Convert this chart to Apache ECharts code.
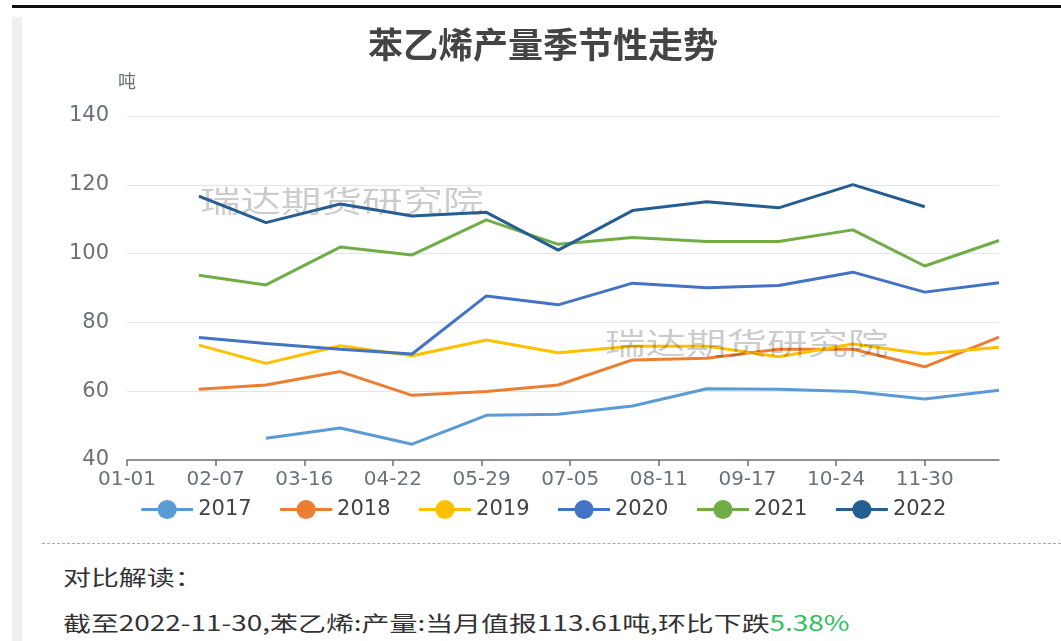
<!DOCTYPE html>
<html>
<head>
<meta charset="utf-8">
<title>苯乙烯产量季节性走势</title>
<script src="https://cdn.jsdelivr.net/npm/echarts@6/dist/echarts.min.js"></script>
<style>
    body { margin: 0; background: #fff; width: 1061px; height: 641px; overflow: hidden; position: relative; font-family: "Noto Sans CJK SC", sans-serif; }
    .topline { position: absolute; left: 12px; right: 0; top: 5px; height: 3px; background: #111; }
    .leftbar { position: absolute; left: 12px; top: 17px; width: 10px; bottom: 0; background: #f0f0f0; }
    #chart { position: absolute; left: 22px; top: 0; width: 1042px; height: 540px; }
    .dash { position: absolute; left: 42px; right: 0; top: 543px; border-top: 1px dashed #aaa; }
    .txt { position: absolute; left: 63px; font-size: 21px; color: #333; white-space: nowrap; transform: scaleX(1.33); transform-origin: left center; }
    .green { color: #2fc25b; }
</style>
</head>
<body>
<div class="topline"></div>
<div class="leftbar"></div>
<div id="chart"></div>
<div class="dash"></div>
<div class="txt" style="top:561px">对比解读：</div>
<div class="txt" style="top:607px">截至2022-11-30,苯乙烯:产量:当月值报113.61吨,环比下跌<span class="green">5.38%</span></div>
<script>
//月末日期
var months = ['01-31','02-28','03-31','04-30','05-31','06-30','07-31','08-31','09-30','10-31','11-30','12-31']
var years = ['2017','2018','2019','2020','2021','2022']
var y2017 = [null, 46.3, 49.3, 44.6, 53.0, 53.3, 55.7, 60.7, 60.6, 59.9, 57.7, 60.3]
var y2018 = [60.6, 61.8, 65.7, 58.8, 59.9, 61.8, 69.1, 69.6, 72.2, 72.2, 67.1, 75.7]
var y2019 = [73.4, 68.1, 73.2, 70.3, 74.9, 71.2, 73.1, 73.1, 70.0, 73.7, 70.8, 72.8]
var y2020 = [75.6, 73.9, 72.2, 70.8, 87.7, 85.1, 91.4, 90.1, 90.7, 94.6, 88.8, 91.5]
var y2021 = [93.7, 90.9, 101.9, 99.6, 109.8, 102.7, 104.7, 103.5, 103.5, 106.9, 96.4, 103.8]
var y2022 = [116.7, 109.0, 114.4, 110.9, 112.0, 101.0, 112.5, 115.1, 113.3, 120.07, 113.61, null]
var colors = ['#5b9bd5','#ed7d31','#ffc000','#4472c4','#70ad47','#255e91']

//一年的日期 01-01 ~ 12-31
var days = []
var d = new Date(2021, 0, 1)
while (d.getFullYear() == 2021) {
    var mm = ('0' + (d.getMonth() + 1)).slice(-2)
    var dd = ('0' + d.getDate()).slice(-2)
    days.push(mm + '-' + dd)
    d.setDate(d.getDate() + 1)
}

var allData = [y2017, y2018, y2019, y2020, y2021, y2022]
var series = []
for (var i = 0; i < years.length; i++) {
    var pts = []
    for (var j = 0; j < months.length; j++) {
        if (allData[i][j] != null) pts.push([months[j], allData[i][j]])
    }
    series.push({
        name: years[i],
        type: 'line',
        data: pts,
        symbol: 'circle',
        showSymbol: false,
        lineStyle: { width: 3 },
        emphasis: { disabled: true }
    })
}

var axisColor = '#6e7079'
var char1 = echarts.init(document.getElementById('chart'))
var option1 = {
    animation: false,
    color: colors,
    title: {
        text: '苯乙烯产量季节性走势',
        left: 'center',
        top: 22,
        textStyle: { fontSize: 35, fontWeight: 'bold', color: '#444', fontFamily: 'Noto Sans CJK SC' }
    },
    legend: {
        data: years,
        top: 494,
        left: 'center',
        itemWidth: 52,
        itemHeight: 24,
        itemGap: 27,
        lineStyle: { width: 3 },
        textStyle: { fontSize: 21, color: '#444', fontFamily: 'DejaVu Sans' }
    },
    grid: { left: 105, right: 65, top: 116, bottom: 80 },
    xAxis: {
        type: 'category',
        boundaryGap: false,
        data: days,
        axisLine: { lineStyle: { color: axisColor, width: 1.5 } },
        axisTick: { interval: 36, length: 6, lineStyle: { color: axisColor, width: 1.5 } },
        axisLabel: { interval: 36, fontSize: 20, color: axisColor, margin: 10, fontFamily: 'DejaVu Sans' }
    },
    yAxis: {
        type: 'value',
        name: '吨',
        nameGap: 26,
        nameTextStyle: { fontSize: 18, color: axisColor, fontFamily: 'Noto Sans CJK SC' },
        min: 40,
        max: 140,
        interval: 20,
        axisLine: { show: false },
        axisTick: { show: false },
        axisLabel: { fontSize: 21, color: axisColor, margin: 18, fontFamily: 'DejaVu Sans' },
        splitLine: { lineStyle: { color: '#e0e6f1' } }
    },
    //水印
    graphic: [
        { type: 'text', left: 178, top: 186, z: -1, scaleX: 1.35,
          style: { text: '瑞达期货研究院', fontSize: 30, fill: 'rgba(0,0,0,0.2)', fontFamily: 'Noto Sans CJK SC' } },
        { type: 'text', left: 583, top: 328, z: 100, scaleX: 1.35,
          style: { text: '瑞达期货研究院', fontSize: 30, fill: 'rgba(0,0,0,0.2)', fontFamily: 'Noto Sans CJK SC' } }
    ],
    series: series
}
char1.setOption(option1)
</script>
</body>
</html>
